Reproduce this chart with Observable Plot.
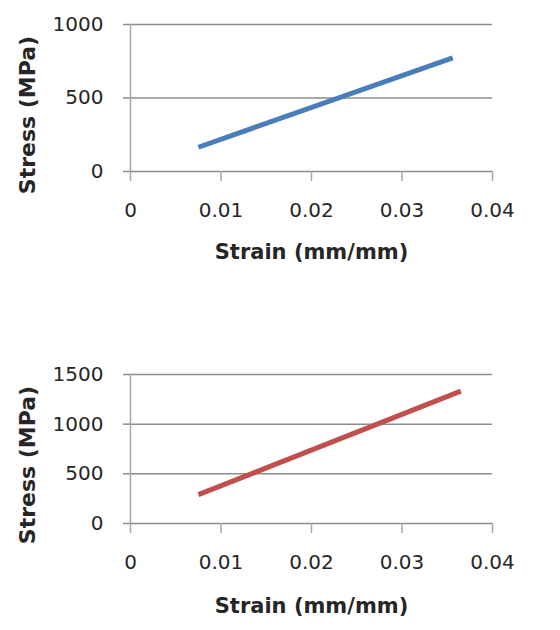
<!DOCTYPE html>
<html>
<head>
<meta charset="utf-8">
<script src="https://cdn.jsdelivr.net/npm/d3@7"></script>
<script src="https://cdn.jsdelivr.net/npm/@observablehq/plot@0.6"></script>
<style>
  html, body { margin: 0; padding: 0; background: #fff; }
  #chart svg { display: block; }
</style>
</head>
<body>
<div id="chart"></div>
<script>
// Top chart (blue)
const strainTop = [0.0075, 0.0356];
const stressTop = [165, 773];
const yTicksTop = [0, 500, 1000];

// Bottom chart (red)
const strainBottom = [0.0075, 0.0365];
const stressBottom = [290, 1332];
const yTicksBottom = [0, 500, 1000, 1500];

const xTicks = [0, 0.01, 0.02, 0.03, 0.04];
const xLabel = "Strain (mm/mm)";
const yLabel = "Stress (MPa)";

const FONT = "'DejaVu Sans', sans-serif";
const gridColor = "#8c8c8c";
const axisColor = "#a8a8a8";
const textColor = "#262626";

function makeChart({strain, stress, yTicks, yMax, color, height, marginTop, marginBottom, xLabelDy, yLabelDy}) {
  const data = strain.map((s, i) => ({strain: s, stress: stress[i]}));
  return Plot.plot({
    width: 560,
    height,
    marginLeft: 130,
    marginRight: 68,
    marginTop,
    marginBottom,
    style: {fontFamily: FONT, background: "#fff", color: textColor},
    x: {domain: [0, 0.04], label: null},
    y: {domain: [0, yMax], label: null},
    marks: [
      Plot.gridY(yTicks, {stroke: gridColor, strokeOpacity: 1, strokeWidth: 1.5}),
      Plot.ruleX([0], {stroke: axisColor, strokeWidth: 1.5}),
      Plot.axisY(yTicks, {tickSize: 7, tickPadding: 20, stroke: gridColor, strokeWidth: 1.5, fill: textColor, fontSize: 20, label: null, tickFormat: d => String(d)}),
      Plot.axisX(xTicks, {tickSize: 10, tickPadding: 21, stroke: axisColor, strokeWidth: 1.5, fill: textColor, fontSize: 20, label: null, tickFormat: d => String(d)}),
      Plot.line(data, {x: "strain", y: "stress", stroke: color, strokeWidth: 5, strokeLinecap: "butt"}),
      Plot.text([xLabel], {frameAnchor: "bottom", dy: xLabelDy, fontWeight: "bold", fontSize: 21, fill: textColor}),
      Plot.text([yLabel], {frameAnchor: "left", textAnchor: "middle", lineAnchor: "middle", rotate: -90, dx: -103, dy: yLabelDy, fontWeight: "bold", fontSize: 22, fill: textColor})
    ]
  });
}

const chart = document.getElementById("chart");
chart.append(makeChart({
  strain: strainTop, stress: stressTop, yTicks: yTicksTop, yMax: 1000,
  color: "#4a7ebb", height: 290, marginTop: 24, marginBottom: 119,
  xLabelDy: 87, yLabelDy: 17
}));
chart.append(makeChart({
  strain: strainBottom, stress: stressBottom, yTicks: yTicksBottom, yMax: 1500,
  color: "#c0504d", height: 340, marginTop: 84, marginBottom: 107,
  xLabelDy: 89, yLabelDy: 16
}));
</script>
</body>
</html>
